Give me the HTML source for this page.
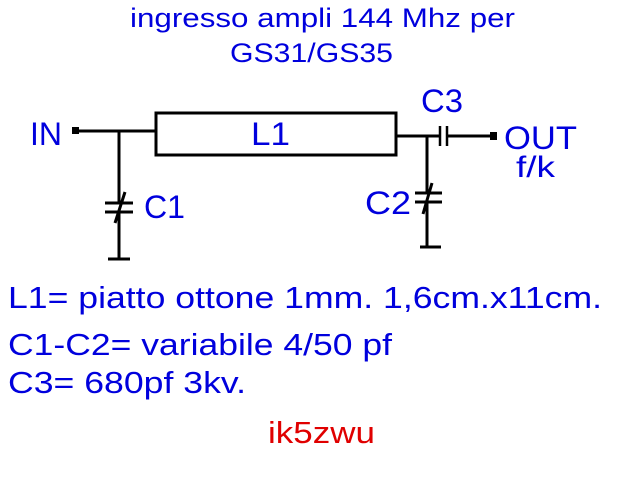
<!DOCTYPE html>
<html><head><style>
html,body{margin:0;padding:0;background:#fff;}
svg{display:block;}
text{font-family:"Liberation Sans",Arial,sans-serif;fill:#0000dd;}
</style></head><body>
<svg width="640" height="480" viewBox="0 0 640 480" xmlns="http://www.w3.org/2000/svg">
<text x="130" y="27" font-size="27" textLength="385" lengthAdjust="spacingAndGlyphs">ingresso ampli 144 Mhz per</text>
<text x="230" y="62" font-size="27" textLength="163" lengthAdjust="spacingAndGlyphs">GS31/GS35</text>

<g stroke="#000" stroke-width="3" fill="none">
<line x1="76" y1="131" x2="156" y2="131"/>
<rect x="156" y="113" width="240" height="42"/>
<line x1="119" y1="131" x2="119" y2="203"/>
<line x1="119" y1="212" x2="119" y2="259"/>
<line x1="105" y1="203" x2="133" y2="203"/>
<line x1="105" y1="212" x2="133" y2="212"/>
<line x1="115" y1="223" x2="125" y2="192"/>
<line x1="108" y1="259" x2="130" y2="259"/>

<line x1="396" y1="136" x2="440" y2="136"/>
<line x1="447" y1="136" x2="496" y2="136"/>
<line x1="440" y1="126" x2="440" y2="146" stroke-width="2.5"/>
<line x1="447" y1="126" x2="447" y2="146" stroke-width="2.5"/>
<line x1="427" y1="136" x2="427" y2="193"/>
<line x1="427" y1="202" x2="427" y2="248"/>
<line x1="415" y1="193" x2="442" y2="193"/>
<line x1="415" y1="202" x2="442" y2="202"/>
<line x1="423" y1="214" x2="432" y2="183"/>
<line x1="420" y1="247" x2="441" y2="247"/>
</g>
<rect x="72" y="127" width="7" height="7" fill="#000"/>
<rect x="490" y="132" width="7" height="8" fill="#000"/>

<text x="30" y="145" font-size="32" textLength="32" lengthAdjust="spacingAndGlyphs">IN</text>
<text x="251" y="145" font-size="32" textLength="39" lengthAdjust="spacingAndGlyphs">L1</text>
<text x="144" y="218" font-size="32" textLength="41" lengthAdjust="spacingAndGlyphs">C1</text>
<text x="421" y="112" font-size="32" textLength="42" lengthAdjust="spacingAndGlyphs">C3</text>
<text x="365" y="214" font-size="32" textLength="46" lengthAdjust="spacingAndGlyphs">C2</text>
<text x="504" y="149" font-size="32" textLength="73" lengthAdjust="spacingAndGlyphs">OUT</text>
<text x="516" y="177" font-size="30" textLength="39" lengthAdjust="spacingAndGlyphs">f/k</text>

<text x="8" y="308" font-size="31" textLength="594" lengthAdjust="spacingAndGlyphs">L1= piatto ottone 1mm. 1,6cm.x11cm.</text>
<text x="8" y="355" font-size="31" textLength="384" lengthAdjust="spacingAndGlyphs">C1-C2= variabile 4/50 pf</text>
<text x="8" y="393" font-size="31" textLength="238" lengthAdjust="spacingAndGlyphs">C3= 680pf 3kv.</text>
<text x="268" y="443" font-size="31" textLength="107" lengthAdjust="spacingAndGlyphs" style="fill:#e00000">ik5zwu</text>
</svg>
</body></html>
